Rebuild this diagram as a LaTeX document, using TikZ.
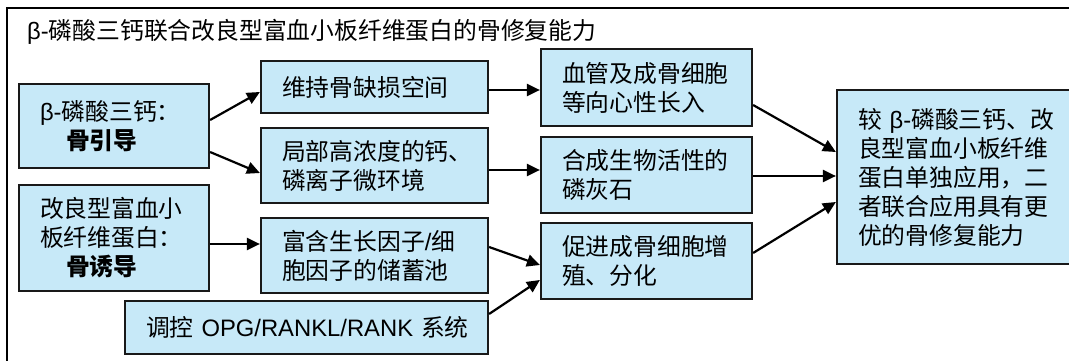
\documentclass[tikz,border=0pt]{standalone}
\usepackage{fontspec}
\setmainfont{Noto Sans CJK SC}
\newfontfamily\lat{Liberation Sans}
\usetikzlibrary{arrows.meta}
\definecolor{boxfill}{RGB}{199,233,248}
\definecolor{boxline}{RGB}{25,25,25}
\begin{document}
\begin{tikzpicture}[x=1pt,y=-1pt,
 box/.style={draw=boxline, line width=2.2pt, fill=boxfill, inner xsep=21pt, inner ysep=0pt, align=left, font=\fontsize{23.8}{29}\selectfont, anchor=center},
 arr/.style={-{Triangle[length=13pt,width=12pt]}, line width=2.2pt},
 ttl/.style={anchor=west, inner sep=0pt}
]
\useasboundingbox (0,0) rectangle (1069,361);
\draw[line width=1.6pt] (7,8) rectangle (1080,370);
\node[ttl] (T) at (27,32) {\fontsize{23.8}{28}\selectfont{\lat β-}磷酸三钙联合改良型富血小板纤维蛋白的骨修复能力};

\node[box, minimum width=190pt, minimum height=84pt, text width=148pt] (A) at (114,126)
 {{\lat β-}磷酸三钙：\\\hspace*{26pt}{\bfseries 骨引导}};
\node[box, minimum width=190pt, minimum height=106pt, text width=148pt] (B) at (114,238)
 {改良型富血小\\板纤维蛋白：\\\hspace*{26pt}{\bfseries 骨诱导}};

\node[box, minimum width=227pt, minimum height=52pt, text width=185pt] (C) at (374.5,87) {维持骨缺损空间};
\node[box, minimum width=227pt, minimum height=75pt, text width=185pt] (D) at (374.5,165.5) {局部高浓度的钙、\\磷离子微环境};
\node[box, minimum width=227pt, minimum height=75pt, text width=185pt] (E) at (374.5,255.5) {富含生长因子{\lat /}细\\胞因子的储蓄池};
\node[box, minimum width=363pt, minimum height=53pt, text width=321pt] (F) at (306.5,327.5) {\mbox{调控 {\lat OPG/RANKL/RANK} 系统}};

\node[box, minimum width=211pt, minimum height=77pt, text width=169pt] (G) at (646.5,87.5) {血管及成骨细胞\\等向心性长入};
\node[box, minimum width=211pt, minimum height=76pt, text width=169pt] (H) at (646.5,175) {合成生物活性的\\磷灰石};
\node[box, minimum width=211pt, minimum height=76pt, text width=169pt] (I) at (646.5,261) {促进成骨细胞增\\殖、分化};

\node[box, minimum width=238pt, minimum height=174pt, text width=196pt] (J) at (956,177)
 {\mbox{较 {\lat β-}磷酸三钙、改}\\良型富血小板纤维\\蛋白单独应用，二\\者联合应用具有更\\优的骨修复能力};

\draw[arr] ([yshift=6pt]A.east) -- ([yshift=-5pt]C.west);
\draw[arr] ([yshift=-26pt]A.east) -- ([yshift=-7.5pt]D.west);
\draw[arr] ([yshift=-6pt]B.east) -- ([yshift=11.5pt]E.west);
\draw[arr] ([yshift=-3pt]C.east) -- ([yshift=-2.5pt]G.west);
\draw[arr] ([yshift=-4.5pt]D.east) -- ([yshift=5pt]H.west);
\draw[arr] ([yshift=8.5pt]E.east) -- ([yshift=-4pt]I.west);
\draw[arr] ([yshift=13.5pt]F.east) -- ([yshift=-19pt]I.west);
\draw[arr] ([yshift=-17.5pt]G.east) -- ([yshift=25pt]J.west);
\draw[arr] ([yshift=-1pt]H.east) -- ([yshift=1pt]J.west);
\draw[arr] ([yshift=8pt]I.east) -- ([yshift=-25pt]J.west);
\end{tikzpicture}
\end{document}
